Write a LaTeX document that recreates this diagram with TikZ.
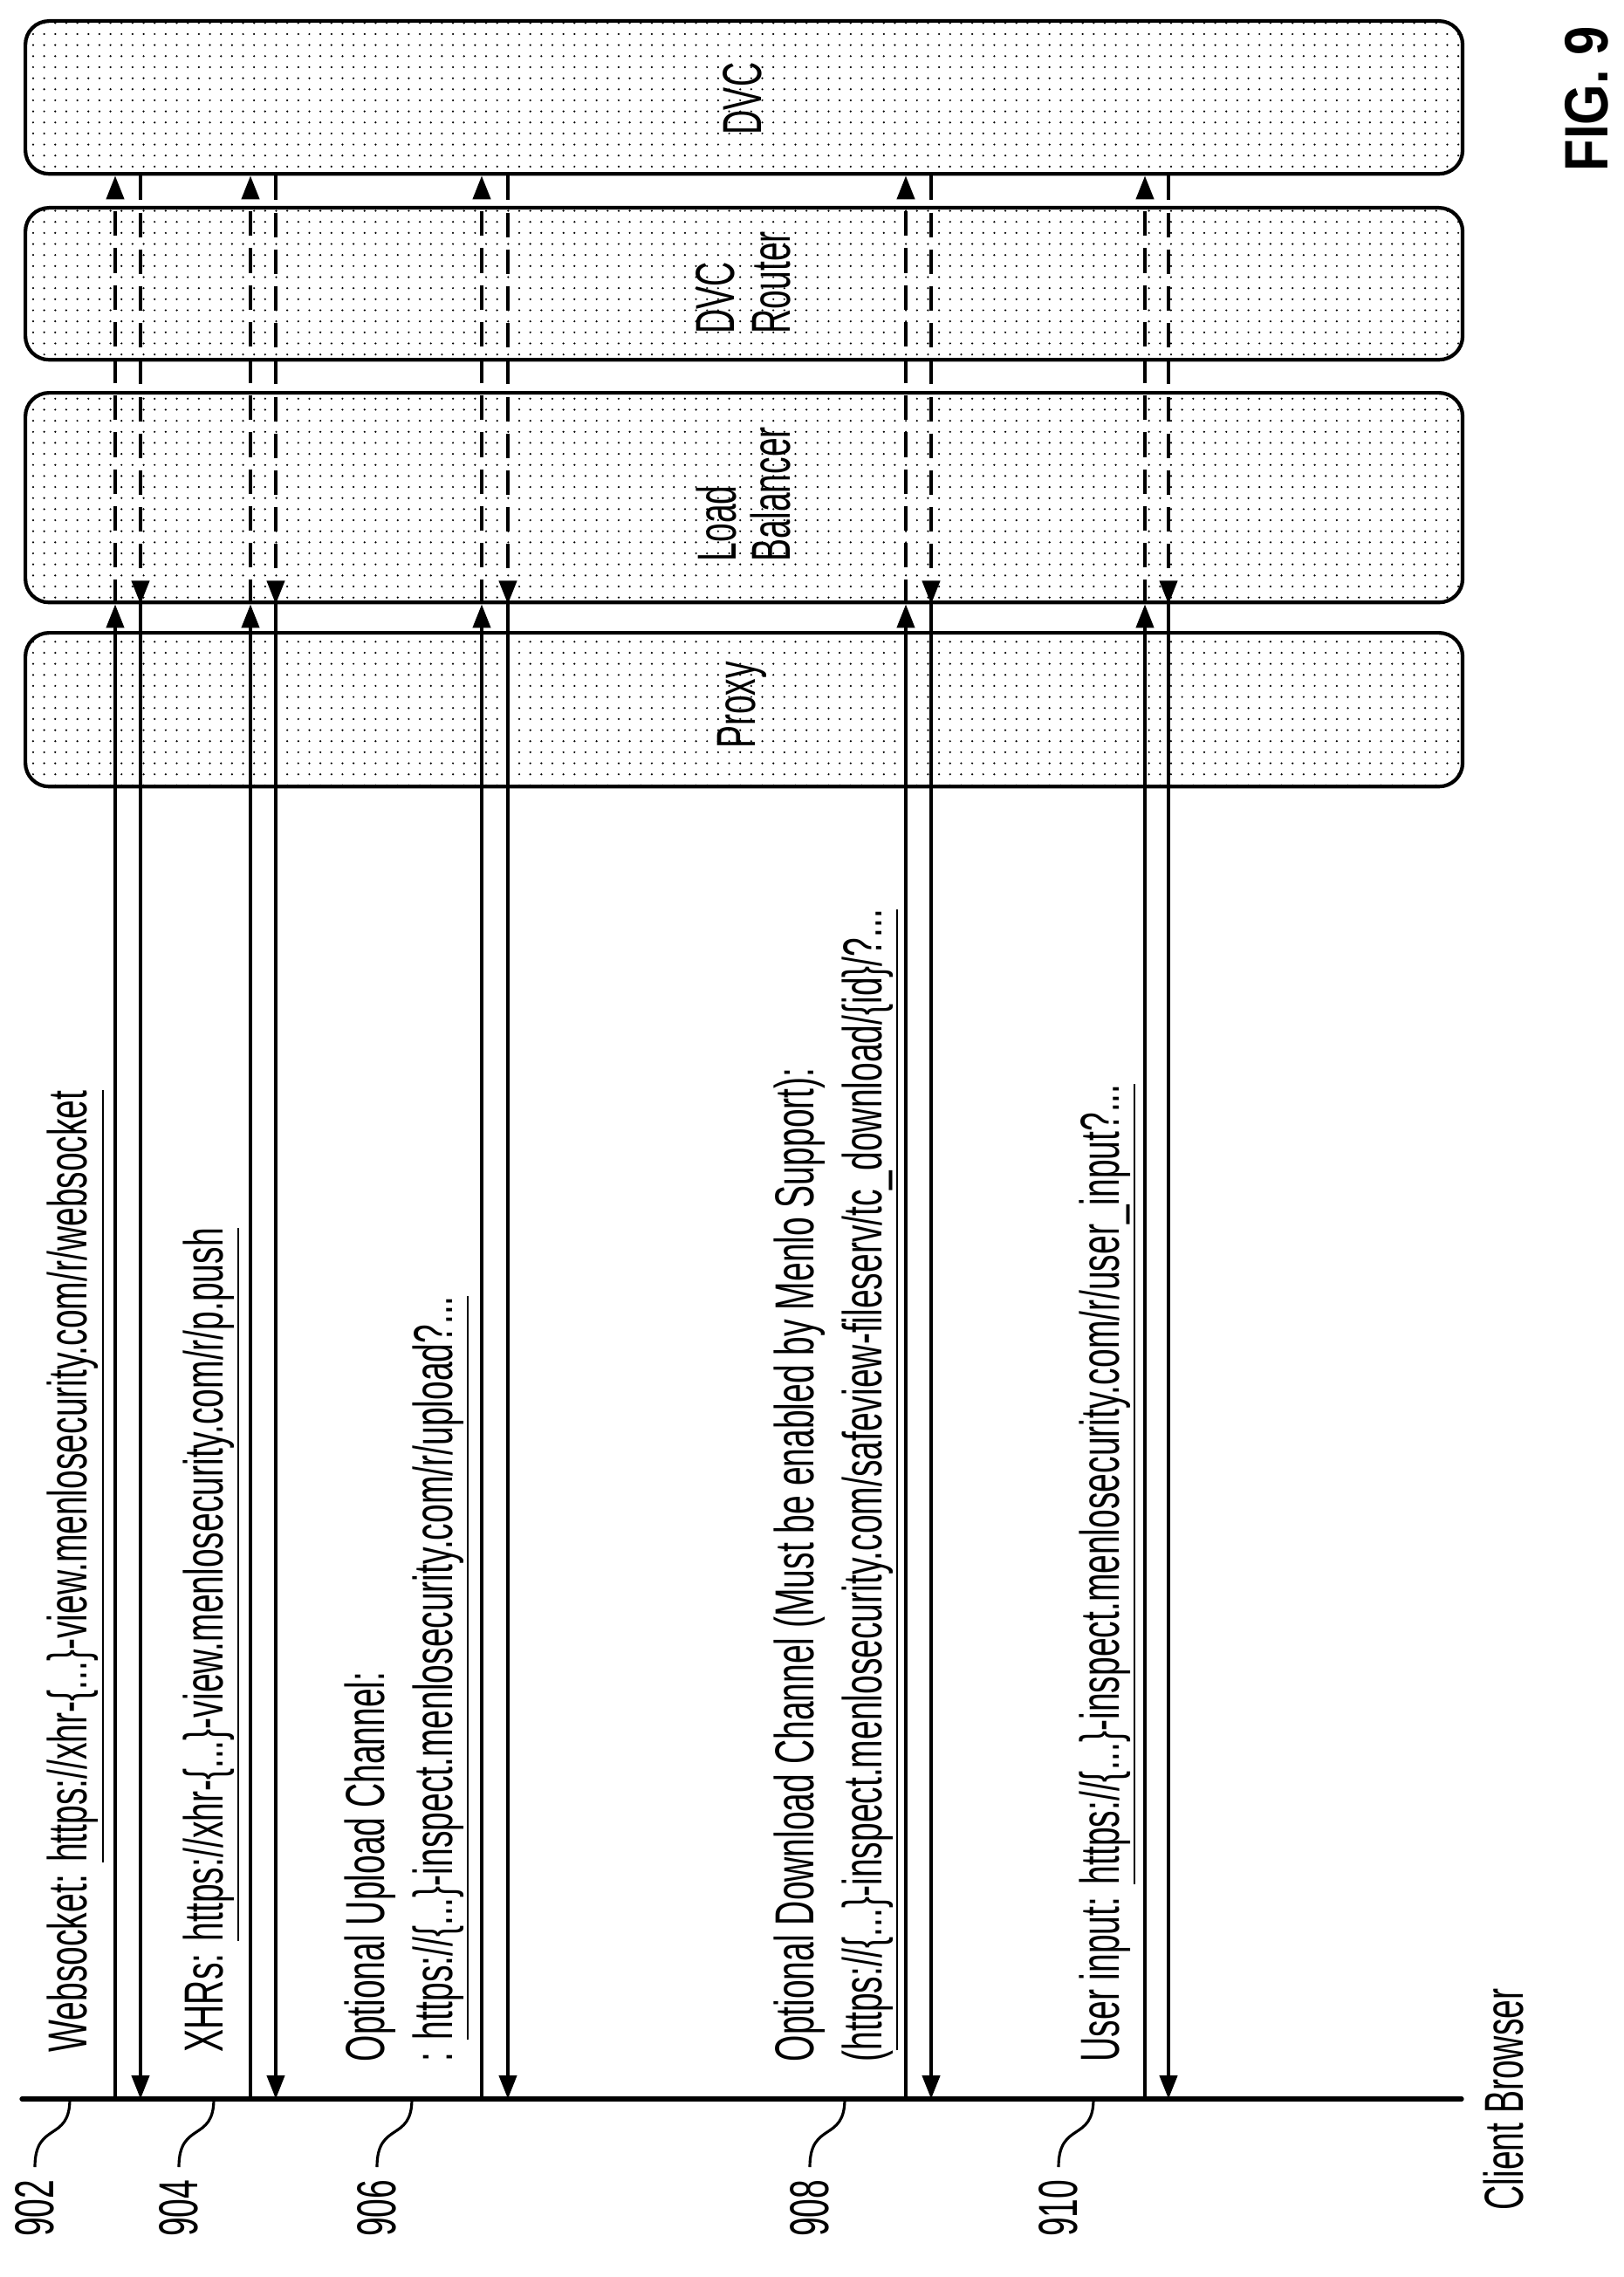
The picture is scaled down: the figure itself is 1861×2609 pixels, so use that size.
\documentclass[tikz,border=0pt]{standalone}
\usepackage{fontspec}
\newfontfamily\narrowfont[FakeStretch=0.62]{Liberation Sans}
\newfontfamily\figfont[FakeStretch=0.85]{Liberation Sans}
\usetikzlibrary{arrows.meta,patterns}
\pgfdeclarepatternformonly{sparsedots}{\pgfpoint{-1pt}{-1pt}}{\pgfpoint{1pt}{1pt}}%
  {\pgfpoint{3.6pt}{3.6pt}}{\pgfpathcircle{\pgfpointorigin}{0.35pt}\pgfusepath{fill}}
\tikzset{
  lane/.style={draw,line width=1.2pt,rounded corners=0.27cm,pattern=sparsedots,
    minimum width=16.46cm,anchor=north west,inner sep=0pt},
  msgtext/.style={rotate=90,anchor=base west,inner sep=0pt,
    font=\narrowfont\fontsize{17.9}{22}\selectfont},
  lanetext/.style={msgtext,anchor=base},
  reqline/.style={line width=1.2pt,-{Triangle[length=0.27cm,width=0.2cm]}},
  dashline/.style={reqline,dash pattern=on 8pt off 4pt},
  leader/.style={line width=0.9pt},
  reflabel/.style={msgtext,anchor=east}
}
\begin{document}
\begin{tikzpicture}[x=0.01cm,y=-0.01cm]
\useasboundingbox (0,0) rectangle (1861,2609);

% lanes
\node[lane,minimum height=1.75cm] (dvc) at (27,22) {};
\node[lane,minimum height=1.74cm] (router) at (27,236) {};
\node[lane,minimum height=2.40cm] (lb) at (27,448) {};
\node[lane,minimum height=1.76cm] (proxy) at (27,723) {};

\node[lanetext] (dvcname) at (872,113) {DVC};
\node[msgtext] (routera) at (841,383) {DVC};
\node[msgtext] (routerb) at (905,383) {Router};
\node[msgtext] (lba) at (843,644) {Load};
\node[msgtext] (lbb) at (905,644) {Balancer};
\node[lanetext] (proxyname) at (865,808) {Proxy};

\node[rotate=90,anchor=base west,inner sep=0pt,
  font=\figfont\bfseries\fontsize{20}{24}\selectfont] (fig) at (1842,197) {FIG. 9};

% client browser
\coordinate (bw) at (25,2405);
\coordinate (be) at (1675,2405);
\draw[line width=1.5pt,line cap=round] (bw) -- (be);
\node[msgtext] (client) at (1745,2533) {Client Browser};

% requests and replies
\foreach \u/\d in {132/161,287/316,552/582,1038/1067,1312/1339}
{
  \coordinate (ua) at (\u,2405);
  \coordinate (ub) at (lb.south -| ua);
  \coordinate (uc) at (dvc.south -| ua);
  \draw[reqline] (ua) -- (ub);
  \draw[dashline] (ub) -- (uc);

  \coordinate (da) at (\d,2405);
  \coordinate (db) at (lb.south -| da);
  \coordinate (dc) at (dvc.south -| da);
  \draw[dashline] (dc) -- (db);
  \draw[reqline] (db) -- (da);
}

\node[msgtext] (ws) at (100,2352)
  {Websocket: \underline{https://xhr-\{...\}-view.menlosecurity.com/r/websocket}};
\node[msgtext] (xhr) at (255,2352)
  {XHRs: \underline{https://xhr-\{...\}-view.menlosecurity.com/r/p.push}};
\node[msgtext] (upa) at (440,2363) {Optional Upload Channel:};
\node[msgtext] (upb) at (518,2363)
  {: \underline{https://\{...\}-inspect.menlosecurity.com/r/upload?...}};
\node[msgtext] (dla) at (932,2363)
  {Optional Download Channel (Must be enabled by Menlo Support):};
\node[msgtext] (dlb) at (1010,2363)
  {(\underline{https://\{...\}-inspect.menlosecurity.com/safeview-fileserv/tc\_download/\{id\}/?...}};
\node[msgtext] (ui) at (1282,2363)
  {User input: \underline{https://\{...\}-inspect.menlosecurity.com/r/user\_input?...}};

% reference numerals
\foreach \x/\n in {80/902,245/904,472/906,968/908,1253/910}
{
  \coordinate (t\n) at (\x,2405);
  \coordinate (e\n) at (\x-40,2483);
  \draw[leader] (t\n) .. controls (\x,2455) and (\x-40,2430) .. (e\n);
  \node[reflabel] (r\n) at (\x-40,2497) {\n};
}
\end{tikzpicture}
\end{document}
